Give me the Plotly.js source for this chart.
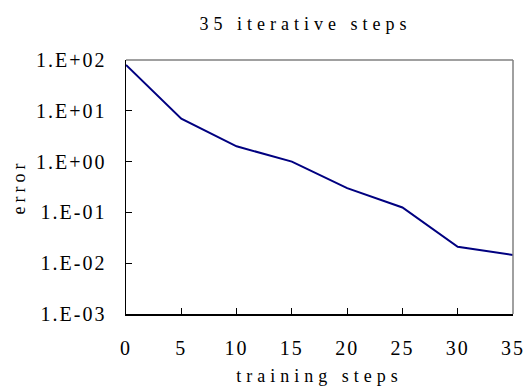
<!DOCTYPE html>
<html>
<head>
<meta charset="utf-8">
<script src="https://cdn.plot.ly/plotly-3.0.1.min.js"></script>
<style>
html,body{margin:0;padding:0;background:#fff;}
#chart{width:525px;height:391px;}
#chart svg text{letter-spacing:2px;}
#chart svg .gtitle{letter-spacing:5px;}
#chart svg .xtitle{letter-spacing:5px;}
#chart svg .ytitle{letter-spacing:4px;}
</style>
</head>
<body>
<div id="chart"></div>
<script>
const steps = [0, 5, 10, 15, 20, 25, 30, 35];
const errors = [80, 7, 2, 1, 0.3, 0.125, 0.021, 0.0145];
const yTickVals = [0.001, 0.01, 0.1, 1, 10, 100];
const yTickText = ["1.E-03", "1.E-02", "1.E-01", "1.E+00", "1.E+01", "1.E+02"];
const xTickVals = [0, 5, 10, 15, 20, 25, 30, 35];

const font = "Liberation Serif, Times New Roman, serif";

Plotly.newPlot("chart", [{
  x: steps, y: errors, type: "scatter", mode: "lines",
  line: {color: "#000080", width: 2}, showlegend: false
}], {
  width: 525, height: 391,
  margin: {l: 126, r: 12, t: 60, b: 77},
  paper_bgcolor: "#fff", plot_bgcolor: "#fff",
  font: {family: font, size: 18, color: "#000"},
  title: {text: "35 iterative steps", font: {family: font, size: 18, color: "#000"},
          xref: "container", x: 0.582, xanchor: "center", y: 0.94, yanchor: "middle"},
  xaxis: {
    range: [0, 35], tickvals: xTickVals, ticks: "inside", ticklen: 6, tickcolor: "#000",
    showline: true, linecolor: "#000", linewidth: 1.5, showgrid: false, zeroline: false,
    ticklabelstandoff: 15, tickfont: {family: font, size: 20},
    title: {text: "training steps", font: {family: font, size: 18}, standoff: 12}
  },
  yaxis: {
    type: "log", range: [-3, 2], tickvals: yTickVals, ticktext: yTickText,
    ticks: "inside", ticklen: 6, tickcolor: "#000",
    showline: true, linecolor: "#000", linewidth: 1.5, showgrid: false, zeroline: false,
    ticklabelstandoff: 14, tickfont: {family: font, size: 20},
    title: {text: "error", font: {family: font, size: 18}, standoff: 17}
  },
  shapes: [
    {type: "line", xref: "paper", yref: "paper", x0: 0, x1: 1, y0: 1, y1: 1, line: {color: "#808080", width: 1.5}},
    {type: "line", xref: "paper", yref: "paper", x0: 1, x1: 1, y0: 0, y1: 1, line: {color: "#808080", width: 1.5}}
  ]
}, {displayModeBar: false, staticPlot: true});
</script>
</body>
</html>
